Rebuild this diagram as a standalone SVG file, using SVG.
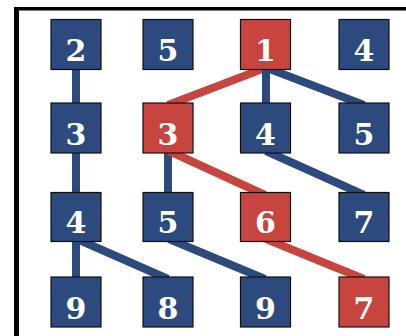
<svg xmlns="http://www.w3.org/2000/svg" width="406" height="336" viewBox="0 0 406 336">
<style>
.b{fill:#2c4a7e;stroke:#111;stroke-width:1.2}
.r{fill:#c8453f;stroke:#111;stroke-width:1.2}
.t{font-family:"DejaVu Serif",serif;font-weight:bold;font-size:30px;fill:#fff;text-anchor:middle}
.lb{stroke:#2c4a7e;stroke-width:8;fill:none}
.lr{stroke:#c8453f;stroke-width:8;fill:none}
</style>
<rect x="0" y="0" width="406" height="336" fill="#fff"/>
<rect x="14" y="7" width="392" height="3.5" fill="#000"/>
<rect x="14" y="7" width="5" height="329" fill="#000"/>
<g id="connectors">
<line class="lb" x1="76" y1="68" x2="76" y2="105"/>
<line class="lr" x1="265" y1="68" x2="168" y2="105"/>
<line class="lb" x1="266" y1="68" x2="266" y2="105"/>
<line class="lb" x1="267" y1="68" x2="364" y2="105"/>
<line class="lb" x1="76" y1="151" x2="76" y2="195"/>
<line class="lb" x1="168" y1="151" x2="168" y2="195"/>
<line class="lr" x1="169" y1="151" x2="265" y2="195"/>
<line class="lb" x1="266" y1="151" x2="364" y2="195"/>
<line class="lb" x1="76" y1="239" x2="76" y2="279"/>
<line class="lb" x1="77" y1="239" x2="168" y2="279"/>
<line class="lb" x1="169" y1="239" x2="265" y2="279"/>
<line class="lr" x1="266" y1="239" x2="364" y2="279"/>
</g>
<g id="n11"><rect class="b" x="51" y="19.5" width="50" height="50"/><text class="t" x="76" y="61">2</text></g>
<g id="n12"><rect class="b" x="143" y="19.5" width="50" height="50"/><text class="t" x="168" y="61">5</text></g>
<g id="n13"><rect class="r" x="240.5" y="19.5" width="50" height="50"/><text class="t" x="265.5" y="61">1</text></g>
<g id="n14"><rect class="b" x="339" y="19.5" width="50" height="50"/><text class="t" x="364" y="61">4</text></g>
<g id="n21"><rect class="b" x="51" y="103" width="50" height="50"/><text class="t" x="76" y="144.5">3</text></g>
<g id="n22"><rect class="r" x="143" y="103" width="50" height="50"/><text class="t" x="168" y="144.5">3</text></g>
<g id="n23"><rect class="b" x="240.5" y="103" width="50" height="50"/><text class="t" x="265.5" y="144.5">4</text></g>
<g id="n24"><rect class="b" x="339" y="103" width="50" height="50"/><text class="t" x="364" y="144.5">5</text></g>
<g id="n31"><rect class="b" x="51" y="192.5" width="50" height="49"/><text class="t" x="76" y="233">4</text></g>
<g id="n32"><rect class="b" x="143" y="192.5" width="50" height="49"/><text class="t" x="168" y="233">5</text></g>
<g id="n33"><rect class="r" x="240.5" y="192.5" width="50" height="49"/><text class="t" x="265.5" y="233">6</text></g>
<g id="n34"><rect class="b" x="339" y="192.5" width="50" height="49"/><text class="t" x="364" y="233">7</text></g>
<g id="n41"><rect class="b" x="51" y="277" width="50" height="50"/><text class="t" x="76" y="318.5">9</text></g>
<g id="n42"><rect class="b" x="143" y="277" width="50" height="50"/><text class="t" x="168" y="318.5">8</text></g>
<g id="n43"><rect class="b" x="240.5" y="277" width="50" height="50"/><text class="t" x="265.5" y="318.5">9</text></g>
<g id="n44"><rect class="r" x="339" y="277" width="50" height="50"/><text class="t" x="364" y="318.5">7</text></g>
</svg>
